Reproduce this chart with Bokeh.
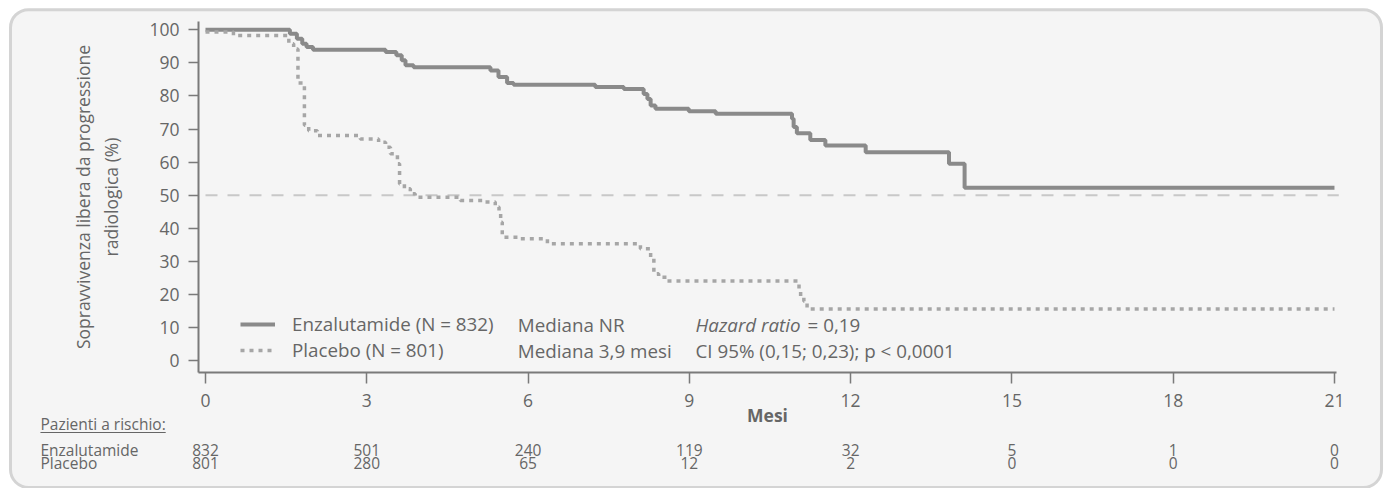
from bokeh.plotting import figure
from bokeh.models import (FixedTicker, Label, BoxAnnotation, Legend,
                          LegendItem, Range1d)
from bokeh.embed import file_html
from bokeh.resources import INLINE

# Kaplan-Meier estimates: month of each step and survival (%) after it
enza_time = [0, 1.57, 1.70, 1.80, 1.88, 2.00, 3.35, 3.55, 3.65, 3.72, 3.87,
             5.30, 5.45, 5.61, 5.73, 7.25, 7.78, 8.15, 8.22, 8.28, 8.37,
             8.99, 9.49, 10.91, 10.94, 11.00, 11.25, 11.53, 12.28, 13.83,
             14.12, 21.0]
enza_surv = [100, 98.8, 97.3, 95.8, 94.8, 94.0, 93.3, 92.3, 90.8, 89.3, 88.7,
             87.7, 85.7, 83.9, 83.4, 82.7, 82.1, 80.6, 79.1, 77.1, 76.1,
             75.4, 74.6, 73.1, 70.6, 68.7, 66.7, 65.0, 63.0, 59.5,
             52.2, 52.2]

plac_time = [0, 0.52, 1.55, 1.64, 1.72, 1.84, 1.92, 2.08, 2.88, 3.22, 3.35,
             3.44, 3.57, 3.61, 3.70, 3.81, 3.90, 4.74, 5.18, 5.39, 5.46,
             5.49, 5.52, 5.86, 6.36, 8.09, 8.28, 8.34, 8.43, 8.59, 11.04,
             11.07, 11.13, 11.19, 21.0]
plac_surv = [99.3, 98.3, 95.8, 94.2, 83.9, 71.1, 69.5, 68.0, 67.0, 66.0, 64.5,
             62.5, 59.5, 53.4, 51.9, 50.4, 49.4, 48.4, 47.9, 46.4, 44.8,
             41.8, 37.3, 36.8, 35.3, 33.8, 31.2, 26.2, 25.2, 24.0, 21.7,
             19.1, 17.9, 15.6, 15.6]

# Patients at risk
risk_months = [0, 3, 6, 9, 12, 15, 18, 21]
enza_at_risk = [832, 501, 240, 119, 32, 5, 1, 0]
plac_at_risk = [801, 280, 65, 12, 2, 0, 0, 0]

y_ticks = list(range(0, 101, 10))
median_level = 50

enza_n, plac_n = 832, 801
hazard_ratio = "0,19"
ci_text = "CI 95% (0,15; 0,23); p < 0,0001"

FONT = "Open Sans"
TEXT = "#666666"
AXIS = "#7a7a7a"

# The frame fills the canvas; both axes sit at fixed data locations so the
# risk table and the rounded panel can live inside the same plot area.
p = figure(width=1385, height=488,
           x_range=Range1d(-3.813, 21.949), y_range=Range1d(-38.71, 108.86),
           output_backend="svg", toolbar_location=None,
           min_border=0)
p.border_fill_color = "white"
p.background_fill_color = "white"
p.outline_line_color = None
p.grid.visible = False

# rounded grey panel behind everything
p.add_layout(BoxAnnotation(left=-3.627, right=21.875, top=106.1, bottom=-38.4,
                           fill_color="#f5f5f5", fill_alpha=1,
                           line_color="#d4d4d4", line_width=3, line_alpha=1,
                           border_radius=18, level="underlay"))

# 50 % reference line
p.segment(x0=[risk_months[0]], x1=[risk_months[-1] + 0.08],
          y0=[median_level], y1=[median_level],
          line_color="#c8c8c8", line_width=2, line_dash="12 10")

r_enza = p.step(enza_time, enza_surv, mode="after", line_color="#8a8a8a",
                line_width=4)
r_plac = p.step(plac_time, plac_surv, mode="after", line_color="#a6a6a6",
                line_width=3.5, line_dash="4 5")

# axes
for ax in (p.xaxis[0], p.yaxis[0]):
    ax.axis_line_color = AXIS
    ax.axis_line_width = 2
    ax.major_tick_line_color = AXIS
    ax.major_tick_line_width = 1.5
    ax.major_tick_in = 0
    ax.major_tick_out = 11
    ax.minor_tick_line_color = None
    ax.major_label_text_font = FONT
    ax.major_label_text_font_size = "17.5px"
    ax.major_label_text_color = TEXT
    ax.axis_label_text_font = FONT
    ax.axis_label_text_color = TEXT

p.yaxis.fixed_location = -0.13
p.yaxis.bounds = (-3.63, 102.5)
p.yaxis.ticker = FixedTicker(ticks=y_ticks)
p.yaxis.major_label_standoff = 9
p.yaxis.major_tick_out = 10
p.yaxis.axis_label = "Sopravvivenza libera da progressione\nradiologica (%)"
p.yaxis.axis_label_text_font_style = "normal"
p.yaxis.axis_label_text_font_size = "17.5px"
p.yaxis.axis_label_standoff = 23

p.xaxis.fixed_location = -3.63
p.xaxis.bounds = (-0.13, 21.03)
p.xaxis.ticker = FixedTicker(ticks=risk_months)
p.xaxis.major_label_standoff = 11
p.xaxis.axis_label = "Mesi"
p.xaxis.axis_label_text_font_style = "bold"
p.xaxis.axis_label_text_font_size = "17.5px"
p.xaxis.axis_label_standoff = -8

# legend
legend = Legend(items=[LegendItem(label=f"Enzalutamide (N = {enza_n})", renderers=[r_enza]),
                       LegendItem(label=f"Placebo (N = {plac_n})", renderers=[r_plac])],
                location=(240, 125), padding=0, margin=0, spacing=0,
                glyph_width=35, glyph_height=26, label_height=26,
                label_standoff=17, label_text_font=FONT,
                label_text_font_size="18.8px", label_text_color=TEXT,
                background_fill_alpha=0, border_line_color=None)
p.add_layout(legend)

# median survival: first month where the estimate reaches 50 % or below
def median(times, surv):
    for t, s in zip(times, surv):
        if s <= median_level:
            return f"{t:.1f}".replace(".", ",") + " mesi"
    return "NR"

row1_y, row2_y = 10.8, 3.0
def note(text, x, y, style="normal"):
    p.add_layout(Label(x=x, y=y, text=text, text_font=FONT,
                       text_font_size="18.8px", text_color=TEXT,
                       text_font_style=style, text_baseline="middle"))

note("Mediana " + median(enza_time, enza_surv), 5.81, row1_y)
note("Mediana " + median(plac_time, plac_surv), 5.81, row2_y)
note("Hazard ratio", 9.115, row1_y, "italic")
note(f"= {hazard_ratio}", 11.2, row1_y)
note(ci_text, 9.115, row2_y)

# patients-at-risk table
def small(text, x, y, align="left"):
    p.add_layout(Label(x=x, y=y, text=text, text_font=FONT,
                       text_font_size="15.5px", text_color=TEXT,
                       text_align=align, text_baseline="middle"))

small("Pazienti a rischio:", -3.07, -19.35)
p.add_layout(BoxAnnotation(left=-3.07, right=-0.74, top=-21.6, bottom=-21.9,
                           fill_color=TEXT, fill_alpha=1, line_color=None))
small("Enzalutamide", -3.07, -26.97)
small("Placebo", -3.07, -31.0)
for m, a, b in zip(risk_months, enza_at_risk, plac_at_risk):
    small(str(a), m, -26.97, "center")
    small(str(b), m, -31.0, "center")

open("out.html", "w").write(file_html(p, INLINE))
